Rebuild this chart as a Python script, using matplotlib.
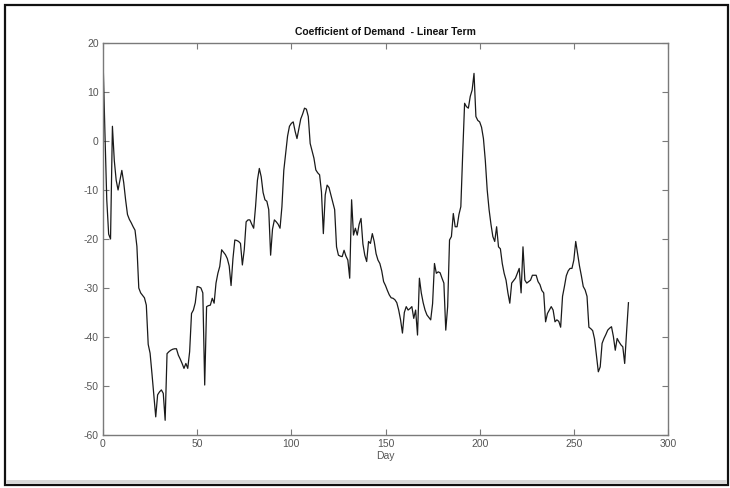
import matplotlib
matplotlib.use("Agg")
import matplotlib.pyplot as plt
from matplotlib.patches import Rectangle

plt.rcParams['font.family'] = ['Liberation Sans', 'DejaVu Sans']

# Daily coefficient of the linear demand term
days = list(range(0, 280))
coef = [
    17, 2, -12, -19, -20, 3, -4, -8, -10, -8,
    -6, -8.5, -12, -15, -16, -16.7, -17.5, -18.2, -21.5, -30,
    -31, -31.5, -32, -33.5, -41.5, -43.3, -47.5, -52, -56.3, -51.8,
    -51.2, -50.8, -51.5, -57, -43.4, -43, -42.7, -42.5, -42.4, -42.4,
    -43.7, -44.5, -45.4, -46.4, -45.4, -46.4, -43, -35.2, -34.5, -33,
    -29.7, -29.8, -30, -31, -49.8, -33.8, -33.6, -33.5, -32.1, -33.1,
    -29, -27, -25.6, -22.2, -22.7, -23.2, -24, -25.5, -29.5, -24,
    -20.2, -20.3, -20.5, -20.9, -25.3, -22.2, -16.5, -16.1, -16.1, -17,
    -17.8, -13.4, -8, -5.6, -7.3, -10.5, -12, -12.3, -14, -23.3,
    -18, -16.1, -16.5, -17, -17.8, -13.4, -6, -2.5, 1, 3,
    3.6, 3.9, 2, 0.5, 2.5, 4.5, 5.5, 6.7, 6.5, 5,
    -0.5, -2, -3.5, -5.9, -6.5, -6.9, -10.4, -18.9, -11, -9,
    -9.5, -11, -12.5, -14, -21.6, -23.3, -23.5, -23.6, -22.3, -23.5,
    -24.3, -28, -12, -19.2, -17.8, -19.2, -17, -15.8, -21, -23.3,
    -24.6, -20.5, -20.9, -18.9, -20.5, -23, -24.3, -25, -26.5, -28.7,
    -29.5, -30.5, -31.4, -32, -32.1, -32.4, -33, -34.5, -36.5, -39.2,
    -35, -33.8, -34.5, -34.2, -33.8, -36.2, -34.5, -39.6, -28, -31,
    -33, -34.5, -35.5, -36, -36.5, -33.2, -25, -27, -26.7, -26.9,
    -28, -29, -38.6, -33.8, -20.2, -19.5, -14.8, -17.5, -17.5, -15,
    -13.4, -2.5, 7.7, 7, 6.7, 9.1, 10.4, 13.8, 5, 4.2,
    3.9, 2.8, 0.5, -4, -10, -14, -17, -19.5, -20.5, -17.5,
    -21.6, -22, -25, -27, -28.4, -31, -33.1, -29, -28.5, -28,
    -27, -26, -31, -21.6, -28.4, -29, -28.7, -28.4, -27.4, -27.4,
    -27.4, -28.7, -29.3, -30.5, -31, -36.9, -35.2, -34.5, -33.8, -34.5,
    -36.9, -36.5, -36.8, -38, -31.7, -29.7, -27.5, -26.5, -26, -26,
    -24.3, -20.5, -23, -25.5, -27.5, -29.7, -30.4, -31.7, -38, -38.3,
    -38.7, -40.4, -43.7, -47.1, -46.1, -41.3, -40.3, -39.5, -38.6, -38.2,
    -37.9, -39.9, -42.7, -40.3, -41, -41.6, -42, -45.4, -39, -33,
]

x_ticks = [0, 50, 100, 150, 200, 250, 300]
y_ticks = [-60, -50, -40, -30, -20, -10, 0, 10, 20]

W, H = 730, 488
fig = plt.figure(figsize=(W / 100, H / 100), dpi=100)
fig.patch.set_facecolor('white')

# outer frame around the figure
fig.patches.append(Rectangle((5 / W, 1 - 485 / H), 723 / W, 480.5 / H,
                             transform=fig.transFigure, fill=False,
                             edgecolor='#111111', linewidth=1.6, zorder=0))
fig.patches.append(Rectangle((6 / W, 1 - 484 / H), 721 / W, 4 / H,
                             transform=fig.transFigure, facecolor='#d8d8d8',
                             edgecolor='none', zorder=0))

ax = fig.add_axes([103 / W, 1 - 435 / H, 565 / W, 392 / H])
ax.plot(days, coef, color='#1a1a1a', linewidth=0.9)

ax.set_xlim(0, 300)
ax.set_ylim(-60, 20)
ax.set_xticks(x_ticks)
ax.set_yticks(y_ticks)
ax.set_xticklabels([str(v) for v in x_ticks])
ax.set_yticklabels([str(v) for v in y_ticks])

for s in ax.spines.values():
    s.set_color('#7a7a7a')
    s.set_linewidth(1.0)
ax.tick_params(direction='in', length=4, width=0.8, color='#7a7a7a',
               labelsize=7.5, labelcolor='#555555', top=True, right=True,
               pad=3)

ax.set_xlabel('Day', fontsize=7.5, color='#555555', labelpad=1)
ax.set_title('Coefficient of Demand  - Linear Term', fontsize=7.5,
             fontweight='bold', color='#111111', pad=6)

fig.savefig('out.png', dpi=100)
